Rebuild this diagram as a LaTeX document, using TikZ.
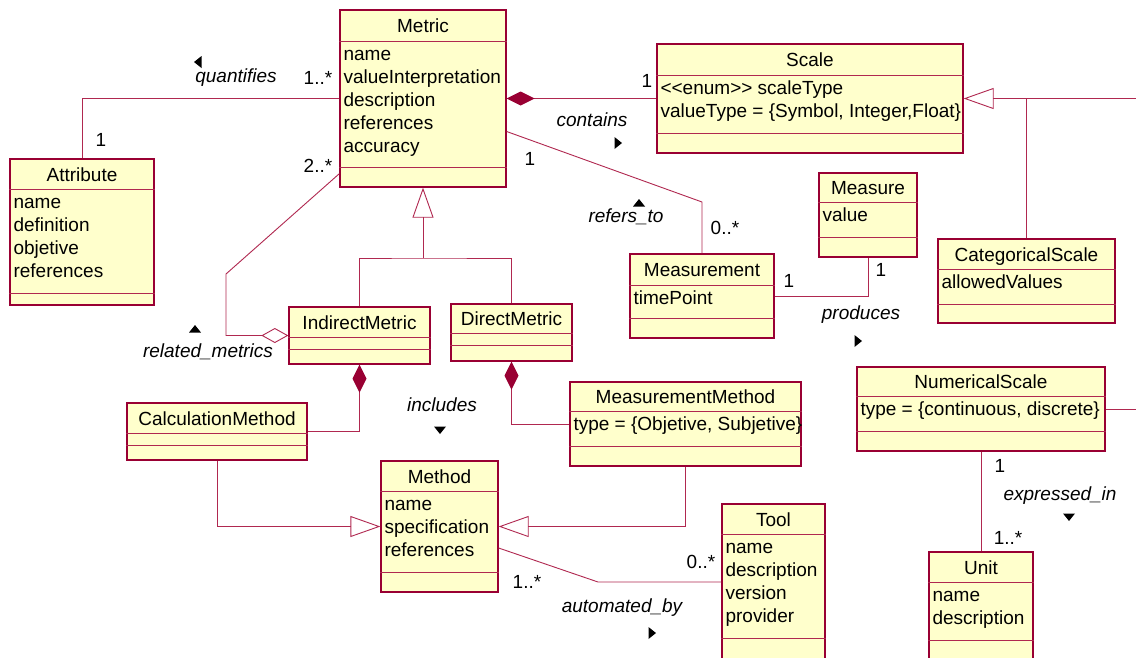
\documentclass[tikz,border=0pt]{standalone}
\usepackage{fontspec}
\setmainfont{Liberation Sans}
\usetikzlibrary{arrows.meta,calc}
\definecolor{umlred}{RGB}{153,0,51}
\definecolor{umlline}{RGB}{176,40,80}
\definecolor{umlfill}{RGB}{255,255,204}
\newcommand{\umlfont}{\fontsize{19}{23}\selectfont}
\tikzset{
  classbox/.style={draw=umlred, fill=umlfill, line width=1.3pt, inner sep=0pt},
  divider/.style={draw=umlline, line width=0.9pt},
  classname/.style={anchor=base, inner sep=0pt},
  classattrs/.style={anchor=north west, align=left, inner xsep=4pt, inner ysep=3pt},
  assoc/.style={draw=umlline, line width=0.9pt},
  inherit/.style={assoc, -{Triangle[open, length=30pt, width=21pt]}},
  composed/.style={assoc, {Diamond[length=28pt, width=14pt, color=umlred, fill=umlred]}-},
  shared/.style={assoc, -{Diamond[open, length=27pt, width=15pt]}},
  mult/.style={inner sep=0pt},
  role/.style={inner sep=0pt, font=\umlfont\itshape}
}
\begin{document}
\begin{tikzpicture}[x=1pt, y=-1pt, font=\umlfont]
  \newcommand{\umlclass}[9]{%
    \node[classbox, minimum width=#4pt, minimum height=#5pt] (#1) at ({#2+#4/2},{#3+#5/2}) {};
    \draw[divider] ([yshift=-#6pt]#1.north west) -- ([yshift=-#6pt]#1.north east);
    \draw[divider] ([yshift=-#6pt-#7pt]#1.north west) -- ([yshift=-#6pt-#7pt]#1.north east);
    \node[classname] (#1-name) at ([yshift=-#6pt/2-7.2pt]#1.north) {#8};
    \node[classattrs] (#1-attrs) at ([yshift=-#6pt]#1.north west) {\strut #9};}
  \newcommand{\roledir}[3]{\fill[shift={(#1,#2)}, rotate=#3] (4,0) -- (-3.5,6) -- (-3.5,-6) -- cycle;}
  \path[use as bounding box, fill=white] (0,0) rectangle (1136,657);
  \clip (0,0) rectangle (1136,657);

  \umlclass{Metric}{340}{10}{166}{177}{32}{126}{Metric}{name\\valueInterpretation\\description\\references\\accuracy}
  \umlclass{Scale}{657}{44}{306}{109}{32}{58}{Scale}{<\kern0pt<enum>\kern0pt> scaleType\\valueType = \{Symbol, Integer,Float\}}
  \umlclass{Attribute}{10}{159}{144}{146}{31}{104}{Attribute}{name\\definition\\objetive\\references}
  \umlclass{IndirectMetric}{289}{307}{141}{57}{31}{12}{IndirectMetric}{}
  \umlclass{DirectMetric}{451}{304}{121}{57}{30}{12}{DirectMetric}{}
  \umlclass{Measurement}{630}{254}{144}{84}{32}{33}{Measurement}{timePoint}
  \umlclass{Measure}{819}{173}{98}{84}{30}{35}{Measure}{value}
  \umlclass{CategoricalScale}{938}{239}{177}{84}{31}{35}{CategoricalScale}{allowedValues}
  \umlclass{NumericalScale}{857}{367}{248}{84}{30}{35}{NumericalScale}{type = \{continuous, discrete\}}
  \umlclass{CalcMethod}{127}{403}{180}{57}{31}{12}{CalculationMethod}{}
  \umlclass{MeasMethod}{570}{382}{231}{84}{30}{35}{MeasurementMethod}{type = \{Objetive, Subjetive\}}
  \umlclass{Method}{381}{461}{117}{131}{31}{81}{Method}{name\\specification\\references}
  \umlclass{Tool}{722}{504}{103}{156}{31}{104}{Tool}{name\\description\\version\\provider}
  \umlclass{Unit}{929}{552}{104}{120}{31}{58}{Unit}{name\\description}

  \coordinate (metricgen) at (423,258);
  \coordinate (relknee) at (226,274);
  \coordinate (refknee) at (702,202);
  \coordinate (autoknee) at (598,582);
  \coordinate (scaleedge) at (1140,98.5);
  \coordinate (numedge) at (1140,409);

  \draw[assoc] (Attribute.north) |- (Metric.west);
  \draw[composed] (Metric.east) -- (Metric.east -| Scale.west);
  \draw[assoc] ([yshift=-33pt]Metric.east) -- (refknee) -- (Measurement.north);
  \draw[assoc] (Measurement.east) -| (Measure.south);
  \draw[inherit] (metricgen) -- (Metric.south);
  \draw[assoc] (IndirectMetric.north) |- (metricgen) -| (DirectMetric.north);
  \draw[shared] ([yshift=14pt]Metric.south west) -- (relknee) |- (IndirectMetric.west);
  \draw[composed] (IndirectMetric.south) |- (CalcMethod.east);
  \draw[composed] (DirectMetric.south) |- (MeasMethod.west);
  \draw[inherit] (CalcMethod.south) |- (Method.west);
  \draw[inherit] (MeasMethod.south) |- (Method.east);
  \draw[assoc] ([yshift=-21.5pt]Method.east) -- (autoknee) -- (Tool.west);
  \draw[inherit] (scaleedge) -- (Scale.east);
  \draw[assoc] (CategoricalScale.north) -- (CategoricalScale.north |- Scale.east);
  \draw[assoc] (NumericalScale.east) -- (numedge);
  \draw[assoc] (NumericalScale.south) -- (Unit.north);

  % roles and multiplicities
  \node[role] (quantifies) at (236,78) {quantifies};
  \node[mult] (quant-m) at (318,78) {1..*};
  \node[mult] (quant-a) at (101,140) {1};
  \node[role] (contains) at (592,120) {contains};
  \node[mult] (cont-s) at (647,81) {1};
  \node[mult] (ref-m) at (530,159) {1};
  \node[role] (refers) at (626,217) {refers\_to};
  \node[mult] (ref-ms) at (725,228) {0..*};
  \node[mult] (prod-ms) at (789,281) {1};
  \node[mult] (prod-m) at (881,270) {1};
  \node[role] (produces) at (861,315) {produces};
  \node[mult] (rel-m) at (318,166) {2..*};
  \node[role] (related) at (208,352) {related\_metrics};
  \node[role] (includes) at (442,405) {includes};
  \node[mult] (auto-m) at (527,582) {1..*};
  \node[mult] (auto-t) at (701,562) {0..*};
  \node[role] (automated) at (622,608) {automated\_by};
  \node[mult] (expr-n) at (1000,466) {1};
  \node[role] (expressed) at (1060,496) {expressed\_in};
  \node[mult] (expr-u) at (1008,538) {1..*};

  \roledir{198}{62}{180}
  \roledir{618}{143}{0}
  \roledir{639}{203}{90}
  \roledir{858}{341}{0}
  \roledir{195}{329}{90}
  \roledir{440}{430}{-90}
  \roledir{652}{633}{0}
  \roledir{1069}{517}{-90}
\end{tikzpicture}
\end{document}
